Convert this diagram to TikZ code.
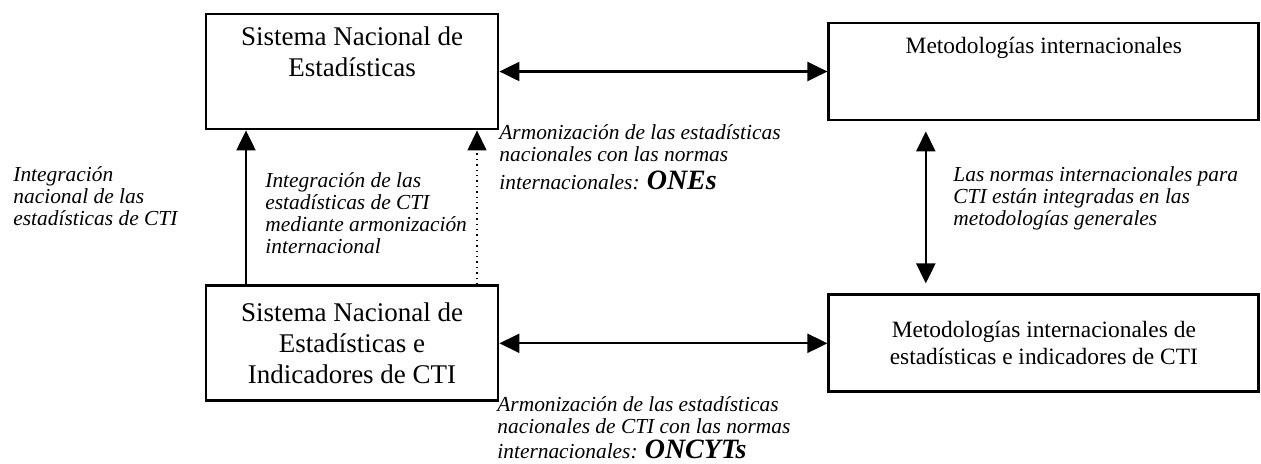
\documentclass[tikz,border=0pt]{standalone}
\usepackage{fontspec}
\setmainfont{Liberation Serif}
\usetikzlibrary{arrows.meta,positioning}
\tikzset{
    %Define standard arrow tip
    >={Triangle[length=10pt,width=9.5pt]},
    %Define style for boxes
    kasse/.style={
           rectangle,
           draw=black, line width=1.4pt,
           align=center,
           inner sep=0pt},
    venstre/.style={
           kasse,
           minimum width=146pt,
           minimum height=57.5pt,
           font=\fontsize{13.5}{15.5}\selectfont},
    hoejre/.style={
           kasse,
           minimum width=215pt,
           minimum height=48.5pt,
           font=\fontsize{11.7}{13.5}\selectfont},
    % Define arrow style
    forbind/.style={
           line width=1.1pt},
    % Define style for the italic notes
    tekst/.style={
           align=left,
           inner sep=0pt,
           font=\itshape\fontsize{10.7}{11}\selectfont}
}
\newcommand{\stor}[1]{{\bfseries\fontsize{14}{14}\selectfont #1}}

\begin{document}
\begin{tikzpicture}[x=0.5pt,y=-0.5pt]
\useasboundingbox (0,0) rectangle (1261,463);

\node[venstre] (sne) at (352,71.5) {Sistema Nacional de\\Estadísticas\\ \strut};
\node[venstre, below=77pt of sne] (snei) {Sistema Nacional de\\Estadísticas e\\Indicadores de CTI};
\node[hoejre, right=164pt of sne] (metint) {Metodologías internacionales\\[9pt] \strut};
\node[hoejre, below=86pt of metint] (metcti) {Metodologías internacionales de\\estadísticas e indicadores de CTI};

% notes
\node[tekst, anchor=west] (intnat) at (13,196.5) {Integración\\nacional de las\\estadísticas de CTI};
\node[tekst, anchor=west] (intharm) at (265,213.5) {Integración de las\\estadísticas de CTI\\mediante armonización\\internacional};
\node[tekst, anchor=north west] (armone) at (499,124) {Armonización de las estadísticas\\nacionales con las normas\\[3pt]internacionales: \stor{ONEs}};
\node[tekst, anchor=north west] (armoncyt) at (497,396) {Armonización de las estadísticas\\nacionales de CTI con las normas\\[1.5pt]internacionales: \stor{ONCYTs}};
\node[tekst, anchor=west] (normer) at (953,198) {Las normas internacionales para\\CTI están integradas en las\\metodologías generales};

\draw[forbind,<->] (sne.east) -- (metint.west);
\draw[forbind,<->] (snei.east) -- (metcti.west);
\draw[forbind,<->,shorten <=5pt,shorten >=5pt] ([xshift=-59pt]metint.south) -- ([xshift=-59pt]metcti.north);
\draw[forbind,->] ([xshift=-53pt]snei.north) -- ([xshift=-53pt]sne.south);
\draw[->,dotted,line width=0.7pt] ([xshift=62.5pt]snei.north) -- ([xshift=62.5pt]sne.south);

\end{tikzpicture}
\end{document}
